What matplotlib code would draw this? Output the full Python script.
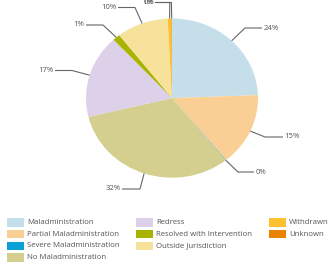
import numpy as np
import matplotlib
matplotlib.use("Agg")
import matplotlib.pyplot as plt
from matplotlib.patches import Rectangle

categories = ["Maladministration", "Partial Maladministration", "Severe Maladministration",
              "No Maladministration", "Redress", "Resolved with Intervention",
              "Outside Jurisdiction", "Withdrawn", "Unknown"]
values = [24.4, 14.8, 0.1, 31.9, 16.9, 1.4, 9.7, 0.7, 0.1]
colors = ["#c5dfea", "#f9cf95", "#0aa0d8", "#d4cf8e", "#ddd0e9", "#a8b400",
          "#f6e29a", "#fcc12e", "#e88300"]

# label placements (elbow point, end of horizontal line) in pixel coordinates
label_elbows = [(245, 28), (265, 137), (238, 172), (140, 189), (72, 70.5),
                (103, 25), (135, 7.5), (169.8, 2.5), (171.4, 2.5)]
label_ends = [262, 283, 254, 122, 55, 86, 118, 155, 156]

W, H = 336, 266
fig = plt.figure(figsize=(W / 100, H / 100), dpi=100)
fig.patch.set_facecolor("white")

cx, cy, rx, ry = 172, 98.1, 86, 79.6
ax = fig.add_axes([(cx - rx) / W, (H - (cy + ry)) / H, 2 * rx / W, 2 * ry / H])
ax.pie(values, colors=colors, startangle=90, counterclock=False, radius=1,
       wedgeprops=dict(linewidth=0))
ax.set_aspect("auto")
ax.set_xlim(-1, 1)
ax.set_ylim(-1, 1)
ax.axis("off")

ov = fig.add_axes([0, 0, 1, 1])
ov.set_xlim(0, W)
ov.set_ylim(H, 0)
ov.axis("off")
ov.patch.set_alpha(0)

font = "Open Sans"
tcol = "#555555"
lcol = "#666666"
fs = 5.6

total = sum(values)
cum = 0
for i, v in enumerate(values):
    mid = (cum + v / 2) / total * 2 * np.pi
    cum += v
    ax_x = cx + rx * np.sin(mid)
    ax_y = cy - ry * np.cos(mid)
    ex, ey = label_elbows[i]
    endx = label_ends[i]
    ov.plot([ax_x, ex, endx], [ax_y, ey, ey], color=lcol, lw=0.8, solid_capstyle="butt")
    pct = f"{round(v / total * 100):.0f}%"
    if endx > ex:
        ov.text(endx + 1.5, ey, pct, ha="left", va="center", fontsize=fs, color=tcol, family=font)
    else:
        ov.text(endx - 1.5, ey, pct, ha="right", va="center", fontsize=fs, color=tcol, family=font)

# legend
cols_x = [7, 136, 269]
rows_y = [222.5, 234, 245.7, 257.5]
layout = [(0, 0), (0, 1), (0, 2), (0, 3), (1, 0), (1, 1), (1, 2), (2, 0), (2, 1)]
for i, (c, r) in enumerate(layout):
    x = cols_x[c]
    y = rows_y[r]
    ov.add_patch(Rectangle((x, y - 4.2), 16.5, 8.4, facecolor=colors[i], edgecolor="none"))
    ov.text(x + 20, y, categories[i], ha="left", va="center", fontsize=fs, color=tcol, family=font)

fig.savefig("out.png", dpi=100)
